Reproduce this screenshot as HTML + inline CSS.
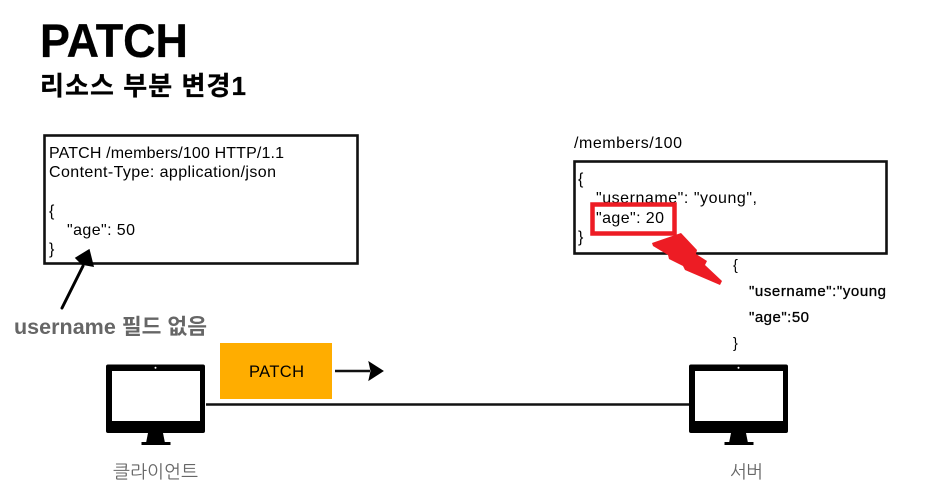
<!DOCTYPE html>
<html><head><meta charset="utf-8"><style>
html,body{margin:0;padding:0;background:#fff;width:933px;height:504px;overflow:hidden}
svg{display:block}
text{font-family:"Liberation Sans","Noto Sans CJK KR",sans-serif;fill:#000}
.b{font-size:16px}
.c{font-family:"Liberation Sans","NanumGothic","Noto Sans CJK KR",sans-serif}
</style></head><body>
<svg width="933" height="504" viewBox="0 0 933 504" xmlns="http://www.w3.org/2000/svg">
<text x="40" y="57" font-size="47" font-weight="700" stroke="#000" stroke-width=".3" textLength="148" lengthAdjust="spacingAndGlyphs">PATCH</text>
<text x="40" y="95" font-size="26" font-weight="700" stroke="#000" stroke-width=".3" textLength="206" lengthAdjust="spacing">리소스 부분 변경1</text>

<rect x="44.500" y="135.500" width="313" height="128" fill="none" stroke="#111" stroke-width="2.600"/>
<text class="b" x="49" y="158" textLength="235" lengthAdjust="spacing">PATCH /members/100 HTTP/1.1</text>
<text class="b" x="49" y="177" textLength="227" lengthAdjust="spacing">Content-Type: application/json</text>
<text class="b" x="49" y="216">{</text>
<text class="b" x="67" y="235" textLength="68" lengthAdjust="spacing">"age": 50</text>
<text class="b" x="49" y="254">}</text>

<line x1="62" y1="308" x2="83" y2="266" stroke="#000" stroke-width="3" stroke-linecap="round"/>
<polygon points="89,250 93,266 82,264 76,258" fill="#000" stroke="#000" stroke-width="1.500"/>
<text x="14" y="334" font-size="21.500" font-weight="700" style="fill:#666" textLength="193" lengthAdjust="spacing">username 필드 없음</text>

<text class="b" x="574" y="148" textLength="108" lengthAdjust="spacing">/members/100</text>
<rect x="574.500" y="161.500" width="312" height="92" fill="none" stroke="#111" stroke-width="2.600"/>
<text class="b" x="578" y="184">{</text>
<text class="b" x="596" y="203" textLength="161" lengthAdjust="spacing">"username": "young",</text>
<text class="b" x="596" y="223" textLength="68" lengthAdjust="spacing">"age": 20</text>
<text class="b" x="578" y="242">}</text>
<rect x="592.500" y="204.500" width="82" height="29" fill="none" stroke="#ed1c24" stroke-width="4.500"/>
<polygon points="652,243 681,233 697,250 696,254 707,261 705,265 722,281 720,285 685,270 683,266 669,259 668,255 653,246" fill="#ed1c24"/>

<text x="733" y="270" font-size="14.500">{</text>
<text x="749" y="296" font-size="15" textLength="137" lengthAdjust="spacing" stroke="#000" stroke-width=".3">"username":"young</text>
<text x="749" y="322" font-size="15" textLength="60" lengthAdjust="spacing" stroke="#000" stroke-width=".3">"age":50</text>
<text x="733" y="348" font-size="14.500">}</text>

<rect x="220" y="343" width="112" height="56" fill="#ffad00"/>
<text x="249" y="377" font-size="16.500" textLength="55" lengthAdjust="spacing">PATCH</text>
<line x1="335" y1="371" x2="370" y2="371" stroke="#111" stroke-width="2.600"/>
<polygon points="369,362 383,371 369,380 371,371" fill="#000" stroke="#000" stroke-width="1"/>

<line x1="206" y1="404.500" x2="689" y2="404.500" stroke="#111" stroke-width="2.600"/>

<g id="m1">
<rect x="106" y="364.500" width="99" height="68.500" rx="2" fill="#000"/>
<rect x="112" y="371" width="88" height="50" fill="#fff"/>
<circle cx="155.500" cy="367.800" r="1" fill="#fff"/>
<polygon points="148,433 163,433 165,443 146,443" fill="#000"/>
<rect x="141.500" y="442" width="29" height="3" fill="#000"/>
</g>
<use href="#m1" x="583"/>

<text class="c" x="113" y="478" font-size="18" style="fill:#666" textLength="85" lengthAdjust="spacing">클라이언트</text>
<text class="c" x="730" y="478" font-size="18" style="fill:#666" textLength="33" lengthAdjust="spacing">서버</text>
</svg>
</body></html>
